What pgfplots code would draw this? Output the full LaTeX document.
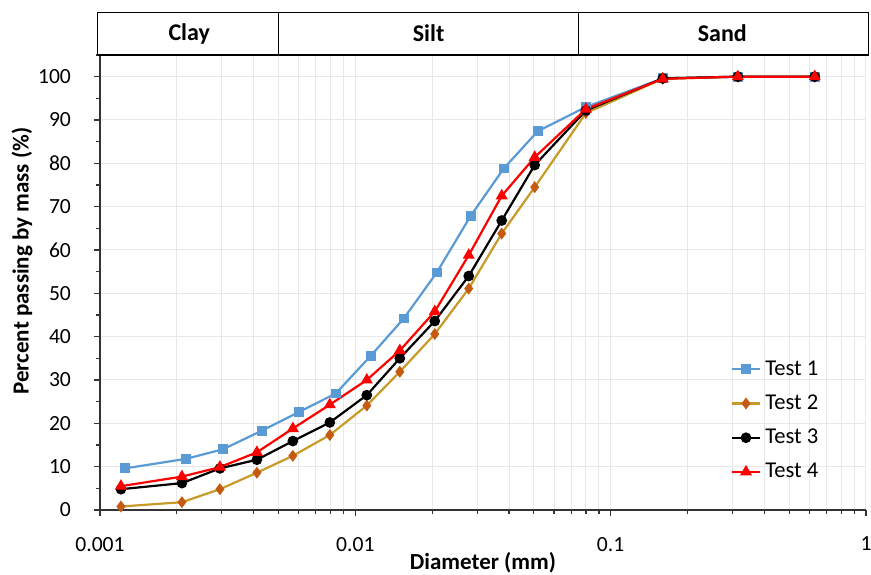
\documentclass[border=0pt]{standalone}
\usepackage{fontspec}
\setmainfont{Carlito}
\usepackage{pgfplots}
\pgfplotsset{compat=1.18}
\definecolor{tblue}{HTML}{5B9BD5}
\definecolor{tgold}{RGB}{200,155,40}
\definecolor{tdia}{HTML}{C55A11}
\definecolor{tred}{HTML}{FF0000}
\definecolor{gridc}{RGB}{232,232,232}
\begin{document}
\begin{tikzpicture}
\begin{axis}[
  xmode=log, log basis x=10,
  scale only axis, width=383pt, height=227.5pt,
  xmin=0.001, xmax=1, ymin=0, ymax=105,
  xtick={0.001,0.01,0.1,1}, xticklabels={0.001,0.01,0.1,1},
  minor xtick={0.002,0.003,0.004,0.005,0.006,0.007,0.008,0.009,0.02,0.03,0.04,0.05,0.06,0.07,0.08,0.09,0.2,0.3,0.4,0.5,0.6,0.7,0.8,0.9},
  ytick={0,10,...,100}, minor ytick={5,15,...,105},
  axis x line*=bottom, axis y line*=left,
  axis line style={-, line width=0.8pt, black!80},
  tick align=outside, major tick length=3pt, minor tick length=2pt,
  every tick/.style={black!80, line width=0.6pt},
  xmajorgrids, xminorgrids, ymajorgrids,
  grid style={gridc, line width=0.5pt},
  minor grid style={gridc, line width=0.5pt},
  /pgf/number format/assume math mode=true,
  tick label style={font=\fontsize{10.8}{12}\selectfont},
  xticklabel style={yshift=-7pt},
  yticklabel style={xshift=-8pt},
  xlabel={\textbf{Diameter (mm)}},
  ylabel={\textbf{Percent passing by mass (\%)}},
  label style={font=\fontsize{11.5}{13}\selectfont},
  xlabel style={at={(rel axis cs:0.5,0)}, anchor=center, yshift=-26.5pt},
  ylabel style={at={(rel axis cs:0,0.547)}, anchor=center, rotate=0, yshift=39pt},
  clip=false,
  legend style={draw=none, fill=none, at={(rel axis cs:0.815,0.347)}, anchor=north west,
    font=\fontsize{11.3}{13}\selectfont, row sep=4.3pt},
  legend cell align=left,
  legend image code/.code={\draw[mark repeat=2,mark phase=2] plot coordinates {(0cm,0cm)(0.25cm,0cm)(0.5cm,0cm)};},
]
\addplot[color=tblue, line width=1.1pt, mark=square*, mark size=1.9pt, mark options={fill=tblue, draw=tblue}] coordinates {
(0.001253,9.6)(0.002171,11.8)(0.003029,14.0)(0.004305,18.3)(0.006010,22.6)(0.008389,26.9)
(0.011501,35.6)(0.015481,44.2)(0.020845,54.8)(0.028315,67.9)(0.038129,78.8)(0.051804,87.4)
(0.08,93.0)(0.16,99.6)(0.315,100)(0.63,100)};
\addlegendentry{Test 1}
\addplot[color=tgold, line width=1.1pt, mark=diamond*, mark size=2.1pt, mark options={fill=tdia, draw=tdia}] coordinates {
(0.001208,0.8)(0.002094,1.8)(0.002949,4.8)(0.004116,8.6)(0.005692,12.5)(0.007947,17.3)
(0.011092,24.1)(0.014937,31.9)(0.020475,40.6)(0.027810,51.1)(0.037443,63.8)(0.050415,74.5)
(0.08,91.6)(0.16,99.5)(0.315,100)(0.63,100)};
\addlegendentry{Test 2}
\addplot[color=black, line width=1.1pt, mark=*, mark size=2.1pt, mark options={fill=black, draw=black}] coordinates {
(0.001208,4.8)(0.002094,6.2)(0.002949,9.6)(0.004116,11.6)(0.005692,15.9)(0.007947,20.2)
(0.011092,26.5)(0.014937,35.0)(0.020475,43.6)(0.027810,54.0)(0.037443,66.8)(0.050415,79.6)
(0.08,92.2)(0.16,99.6)(0.315,100)(0.63,100)};
\addlegendentry{Test 3}
\addplot[color=tred, line width=1.1pt, mark=triangle*, mark size=2.4pt, mark options={fill=tred, draw=tred}] coordinates {
(0.001208,5.5)(0.002094,7.7)(0.002949,9.9)(0.004116,13.3)(0.005692,18.8)(0.007947,24.3)
(0.011092,30.0)(0.014937,36.8)(0.020475,45.8)(0.027810,58.8)(0.037443,72.5)(0.050415,81.4)
(0.08,92.5)(0.16,99.5)(0.315,100)(0.63,100)};
\addlegendentry{Test 4}
% classification band
\draw[line width=0.7pt, black] (rel axis cs:-0.003,1) rectangle (rel axis cs:1.003,1.094);
\draw[line width=0.7pt, black] (rel axis cs:0.233,1) -- (rel axis cs:0.233,1.094);
\draw[line width=0.7pt, black] (rel axis cs:0.625,1) -- (rel axis cs:0.625,1.094);
\node[font=\bfseries\fontsize{12}{14}\selectfont] at (rel axis cs:0.1165,1.047) {Clay};
\node[font=\bfseries\fontsize{12}{14}\selectfont] at (rel axis cs:0.429,1.047) {Silt};
\node[font=\bfseries\fontsize{12}{14}\selectfont] at (rel axis cs:0.8125,1.047) {Sand};
\coordinate (bl) at (rel axis cs:0,0);
\coordinate (tr) at (rel axis cs:1,1);
\end{axis}
\pgfresetboundingbox
\path[use as bounding box] ([shift={(-50pt,-32.5pt)}]bl) rectangle ([shift={(2.5pt,27.5pt)}]tr);
\end{tikzpicture}
\end{document}
